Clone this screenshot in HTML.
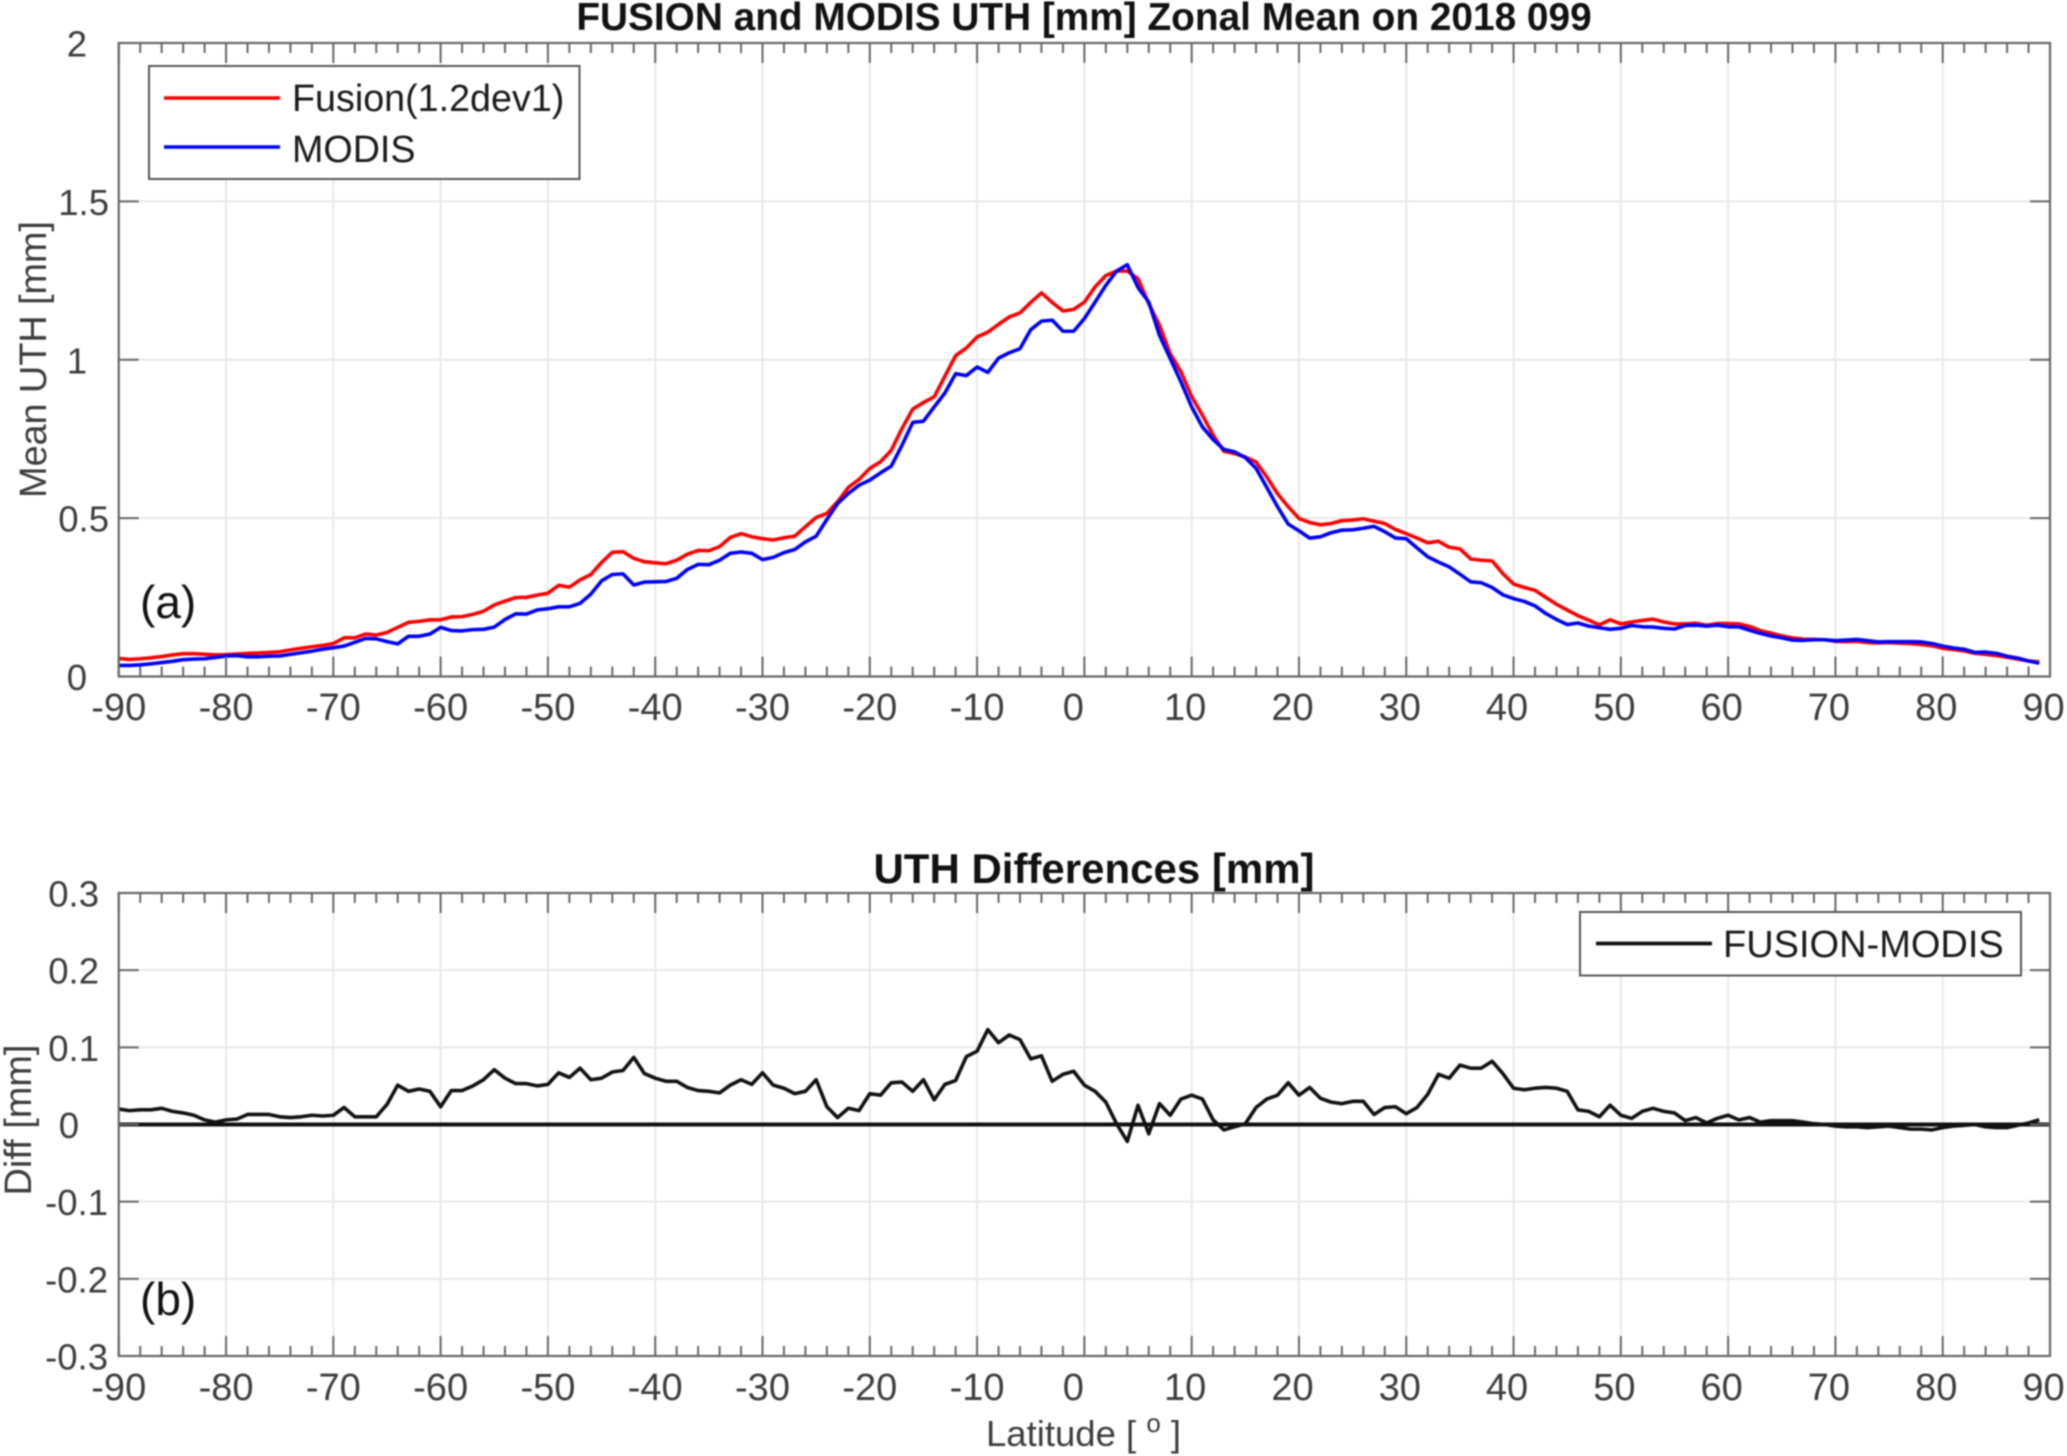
<!DOCTYPE html>
<html lang="en">
<head>
<meta charset="utf-8">
<title>FUSION and MODIS UTH Zonal Mean</title>
<style>
html,body{margin:0;padding:0;background:#fff;width:2067px;height:1456px;overflow:hidden}
svg{display:block;filter:blur(0.75px)}
text{font-family:"Liberation Sans",sans-serif;fill:#3c3c3c}
</style>
</head>
<body>
<svg id="chart" xmlns="http://www.w3.org/2000/svg" width="2067" height="1456" viewBox="0 0 2067 1456">
  <rect x="0" y="0" width="2067" height="1456" fill="#fff"/>
  <g id="layer-grid"></g>
  <g id="layer-series"></g>
  <g id="layer-axes"></g>

  <text x="1084" y="30" font-size="38.8" font-weight="bold" text-anchor="middle" style="fill:#111">FUSION and MODIS UTH [mm] Zonal Mean on 2018 099</text>
  <text x="1094" y="883" font-size="42" font-weight="bold" text-anchor="middle" style="fill:#111">UTH Differences [mm]</text>

  <text transform="translate(46,359.5) rotate(-90)" font-size="38" text-anchor="middle" textLength="277">Mean UTH [mm]</text>
  <text transform="translate(31,1120) rotate(-90)" font-size="38" text-anchor="middle" textLength="151">Diff [mm]</text>
  <text x="986" y="1446" font-size="36.5">Latitude [ <tspan font-size="26" dy="-14">o</tspan><tspan dy="14"> ]</tspan></text>

  <text x="140" y="618" font-size="46" style="fill:#111">(a)</text>
  <text x="140" y="1315" font-size="46" style="fill:#111">(b)</text>

  <g>
    <rect x="149" y="66" width="430.5" height="113" fill="#fff" stroke="#555" stroke-width="2"/>
    <line x1="164" y1="98" x2="280" y2="98" stroke="#ff0000" stroke-width="3.6"/>
    <text x="292" y="111" font-size="37.7" style="fill:#1a1a1a">Fusion(1.2dev1)</text>
    <line x1="164" y1="147" x2="280" y2="147" stroke="#0000ff" stroke-width="3.6"/>
    <text x="292" y="162" font-size="37.7" style="fill:#1a1a1a">MODIS</text>
  </g>
  <g>
    <rect x="1580" y="912" width="441" height="63.5" fill="#fff" stroke="#555" stroke-width="2"/>
    <line x1="1596" y1="943.5" x2="1712" y2="943.5" stroke="#111" stroke-width="3.8"/>
    <text x="1723" y="957" font-size="38" style="fill:#1a1a1a">FUSION-MODIS</text>
  </g>
</svg>
<script>
const latitudes = [-90,-89,-88,-87,-86,-85,-84,-83,-82,-81,-80,-79,-78,-77,-76,-75,-74,-73,-72,-71,-70,-69,-68,-67,-66,-65,-64,-63,-62,-61,-60,-59,-58,-57,-56,-55,-54,-53,-52,-51,-50,-49,-48,-47,-46,-45,-44,-43,-42,-41,-40,-39,-38,-37,-36,-35,-34,-33,-32,-31,-30,-29,-28,-27,-26,-25,-24,-23,-22,-21,-20,-19,-18,-17,-16,-15,-14,-13,-12,-11,-10,-9,-8,-7,-6,-5,-4,-3,-2,-1,0,1,2,3,4,5,6,7,8,9,10,11,12,13,14,15,16,17,18,19,20,21,22,23,24,25,26,27,28,29,30,31,32,33,34,35,36,37,38,39,40,41,42,43,44,45,46,47,48,49,50,51,52,53,54,55,56,57,58,59,60,61,62,63,64,65,66,67,68,69,70,71,72,73,74,75,76,77,78,79,80,81,82,83,84,85,86,87,88,89];

const fusionValues = [
.057,.054,.056,.059,.063,.068,.072,.072,.07,.068,
.069,.071,.073,.074,.076,.078,.084,.089,.094,.098,
.104,.122,.122,.134,.131,.139,.155,.171,.174,.179,
.179,.188,.189,.196,.206,.226,.238,.249,.25,.257,
.263,.288,.282,.305,.322,.36,.392,.394,.373,.362,
.359,.356,.367,.386,.398,.397,.41,.439,.451,.441,
.435,.431,.438,.443,.473,.502,.515,.552,.597,.622,
.657,.678,.714,.783,.844,.865,.883,.948,1.013,1.037,
1.072,1.087,1.112,1.135,1.148,1.181,1.211,1.181,1.154,1.159,
1.182,1.23,1.266,1.28,1.28,1.256,1.177,1.109,1.019,.962,
.883,.825,.762,.711,.704,.693,.677,.63,.577,.536,
.499,.486,.479,.483,.492,.494,.498,.49,.483,.464,
.451,.437,.422,.427,.408,.403,.371,.367,.365,.325,
.292,.281,.272,.25,.228,.21,.192,.178,.163,.179,
.166,.172,.177,.181,.172,.166,.166,.168,.162,.167,
.167,.166,.158,.145,.137,.128,.122,.118,.117,.116,
.111,.11,.111,.107,.106,.107,.105,.104,.101,.097,
.089,.085,.081,.073,.07,.066,.061,.055,.049,.046];

const modisValues = [
.035,.035,.037,.04,.044,.048,.053,.055,.056,.06,
.065,.066,.062,.062,.064,.065,.07,.075,.08,.086,
.091,.096,.108,.12,.119,.11,.103,.127,.127,.134,
.155,.145,.144,.148,.149,.156,.18,.198,.197,.21,
.214,.22,.22,.231,.26,.302,.322,.324,.289,.298,
.299,.3,.31,.338,.354,.353,.367,.389,.393,.389,
.369,.376,.391,.401,.425,.443,.496,.546,.578,.604,
.62,.643,.664,.73,.802,.806,.851,.895,.956,.95,
.977,.96,1.005,1.022,1.035,1.095,1.122,1.125,1.09,1.09,
1.13,1.182,1.235,1.28,1.3,1.228,1.182,1.077,1.004,.93,
.851,.788,.748,.717,.709,.691,.657,.597,.536,.481,
.46,.437,.441,.454,.462,.463,.468,.474,.457,.437,
.435,.406,.378,.361,.346,.323,.299,.296,.281,.258,
.246,.237,.223,.199,.18,.164,.169,.159,.154,.149,
.152,.161,.157,.156,.152,.15,.161,.162,.159,.162,
.157,.157,.146,.136,.128,.122,.115,.114,.116,.116,
.113,.115,.117,.113,.109,.11,.11,.11,.109,.104,
.096,.09,.086,.076,.077,.073,.064,.058,.049,.042];

const differenceValues = [
.02,.018,.019,.019,.021,.017,.015,.012,.006,.003,
.006,.007,.013,.013,.013,.01,.009,.01,.012,.011,
.012,.022,.01,.01,.01,.026,.051,.043,.046,.043,
.023,.044,.044,.05,.058,.071,.06,.053,.053,.05,
.052,.067,.061,.073,.058,.06,.068,.07,.087,.066,
.06,.056,.056,.048,.044,.043,.041,.051,.058,.052,
.067,.051,.047,.04,.043,.058,.023,.009,.021,.018,
.04,.038,.054,.055,.043,.058,.032,.052,.057,.088,
.095,.123,.106,.116,.11,.085,.089,.056,.065,.069,
.051,.043,.029,.001,-.022,.025,-.012,.027,.012,.033,
.038,.033,.006,-.007,-.003,.001,.022,.033,.038,.054,
.038,.048,.034,.029,.027,.03,.03,.013,.022,.023,
.014,.022,.039,.065,.06,.077,.073,.073,.082,.066,
.047,.045,.047,.048,.047,.043,.019,.017,.01,.025,
.012,.008,.017,.021,.017,.015,.005,.009,.002,.008,
.012,.006,.009,.003,.005,.005,.005,.003,.001,0,
-.002,-.003,-.003,-.004,-.003,-.002,-.004,-.006,-.006,-.007,
-.004,-.002,-.001,0,-.003,-.004,-.004,-.001,.002,.006];

const referenceValues = [0, 0];
const referenceLatitudes = [-90, 90];

const xMajorTicks = [-90,-80,-70,-60,-50,-40,-30,-20,-10,0,10,20,30,40,50,60,70,80,90];
const xMinorTicks = [-88,-86,-84,-82,-78,-76,-74,-72,-68,-66,-64,-62,-58,-56,-54,-52,-48,-46,-44,-42,-38,-36,-34,-32,-28,-26,-24,-22,-18,-16,-14,-12,-8,-6,-4,-2,2,4,6,8,12,14,16,18,22,24,26,28,32,34,36,38,42,44,46,48,52,54,56,58,62,64,66,68,72,74,76,78,82,84,86,88];
const topYTicks = [0,0.5,1,1.5,2];
const topYTickLabels = ['0','0.5','1','1.5','2'];
const bottomYTicks = [-0.3,-0.2,-0.1,0,0.1,0.2,0.3];
const bottomYTickLabels = ['-0.3','-0.2','-0.1','0','0.1','0.2','0.3'];

const NS = 'http://www.w3.org/2000/svg';
const gridLayer = document.getElementById('layer-grid');
const seriesLayer = document.getElementById('layer-series');
const axesLayer = document.getElementById('layer-axes');

const PLOT_LEFT = 118.75, PLOT_RIGHT = 2050;
const TOP_PANEL = {top: 43, bottom: 676.5, min: 0, max: 2};
const BOTTOM_PANEL = {top: 893, bottom: 1356, min: -0.3, max: 0.3};

function xScale(lat) {
  return PLOT_LEFT + (lat + 90) / 180 * (PLOT_RIGHT - PLOT_LEFT);
}
function yScale(panel, v) {
  return panel.bottom - (v - panel.min) / (panel.max - panel.min) * (panel.bottom - panel.top);
}
function makeLine(x1, y1, x2, y2, color, width) {
  const el = document.createElementNS(NS, 'line');
  el.setAttribute('x1', x1);
  el.setAttribute('y1', y1);
  el.setAttribute('x2', x2);
  el.setAttribute('y2', y2);
  el.setAttribute('stroke', color);
  el.setAttribute('stroke-width', width);
  return el;
}
function makeText(x, y, str, anchor, size) {
  const el = document.createElementNS(NS, 'text');
  el.setAttribute('x', x);
  el.setAttribute('y', y);
  el.setAttribute('font-size', size);
  el.setAttribute('text-anchor', anchor);
  el.textContent = str;
  return el;
}
function drawSeries(panel, xs, ys, color, width, name) {
  const el = document.createElementNS(NS, 'polyline');
  const pts = xs.map((lat, i) => xScale(lat).toFixed(2) + ',' + yScale(panel, ys[i]).toFixed(2)).join(' ');
  el.setAttribute('points', pts);
  el.setAttribute('fill', 'none');
  el.setAttribute('stroke', color);
  el.setAttribute('stroke-width', width);
  el.setAttribute('stroke-linejoin', 'round');
  
  
  seriesLayer.appendChild(el);
}
function xLabelOffset(lat) {
  if (lat < 0) return 0;
  return lat === 0 ? -11 : -6.5;
}
function drawPanel(panel, prefix, yTicks, yLabels, yLabelEnd, xLabelBaseline) {
  xMajorTicks.slice(1, -1).forEach(lat => {
    const g = makeLine(xScale(lat), panel.top, xScale(lat), panel.bottom, '#e8e8e8', 2);
    
    
    gridLayer.appendChild(g);
  });
  yTicks.forEach((v, i) => {
    const y = yScale(panel, v);
    if (i > 0 && i < yTicks.length - 1) {
      const g = makeLine(PLOT_LEFT, y, PLOT_RIGHT, y, '#e8e8e8', 2);
      
      
      gridLayer.appendChild(g);
      [[PLOT_LEFT, PLOT_LEFT + 20], [PLOT_RIGHT - 20, PLOT_RIGHT]].forEach(pair => {
        const t = makeLine(pair[0], y, pair[1], y, '#666', 2);
        
        
        axesLayer.appendChild(t);
      });
    }
    const label = yLabels[i];
    const lab = makeText(yLabelEnd(label), y + 13.5, label, 'end', 36.5);
    
    
    axesLayer.appendChild(lab);
  });
  xMajorTicks.forEach(lat => {
    const x = xScale(lat);
    [[panel.bottom, panel.bottom - 20], [panel.top, panel.top + 20]].forEach(pair => {
      const t = makeLine(x, pair[0], x, pair[1], '#666', 2);
      
      
      axesLayer.appendChild(t);
    });
    const lab = makeText(x + xLabelOffset(lat), xLabelBaseline, String(lat), 'middle', 38);
    
    
    axesLayer.appendChild(lab);
  });
  xMinorTicks.forEach(lat => {
    const x = xScale(lat);
    [[panel.bottom, panel.bottom - 10], [panel.top, panel.top + 10]].forEach(pair => {
      const t = makeLine(x, pair[0], x, pair[1], '#666', 2);
      
      
      axesLayer.appendChild(t);
    });
  });
  const box = document.createElementNS(NS, 'rect');
  box.setAttribute('x', PLOT_LEFT);
  box.setAttribute('y', panel.top);
  box.setAttribute('width', PLOT_RIGHT - PLOT_LEFT);
  box.setAttribute('height', panel.bottom - panel.top);
  box.setAttribute('fill', 'none');
  box.setAttribute('stroke', '#666');
  box.setAttribute('stroke-width', 2.2);
  
  
  axesLayer.appendChild(box);
}

drawPanel(TOP_PANEL, 'top', topYTicks, topYTickLabels, s => s.length > 1 ? 109 : 87, 720);
drawPanel(BOTTOM_PANEL, 'bottom', bottomYTicks, bottomYTickLabels, s => s === '0' ? 79 : (s[0] === '-' ? 108 : 99), 1400);

drawSeries(TOP_PANEL, latitudes, fusionValues, '#ff0000', 3.6, 'fusion-line');
drawSeries(TOP_PANEL, latitudes, modisValues, '#0000ff', 3.6, 'modis-line');
drawSeries(BOTTOM_PANEL, referenceLatitudes, referenceValues, '#111111', 4, 'zero-reference-line');
drawSeries(BOTTOM_PANEL, latitudes, differenceValues, '#111111', 3.6, 'fusion-minus-modis-line');
</script>
</body>
</html>
